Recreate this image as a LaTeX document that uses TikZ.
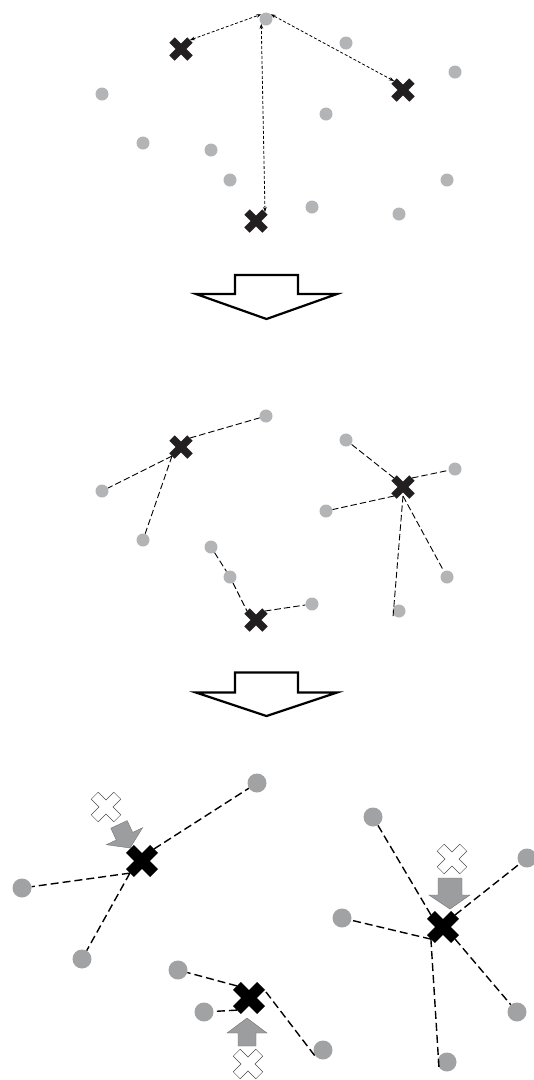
\documentclass[tikz,border=0pt]{standalone}
\usetikzlibrary{arrows.meta}
\definecolor{ptgray}{HTML}{B3B4B6}
\definecolor{bptgray}{HTML}{A1A2A4}
\definecolor{xdark}{HTML}{231F20}
\definecolor{arrgray}{HTML}{9C9D9F}
\tikzset{
  spt/.style={circle, fill=ptgray, inner sep=0pt, minimum size=13pt},
  bpt/.style={circle, fill=bptgray, inner sep=0pt, minimum size=19pt},
  sx/.style={inner sep=0pt, minimum size=17.6pt},
  bx/.style={inner sep=0pt, minimum size=23.8pt},
  sxline/.style={line width=7.5pt, xdark},
  bxline/.style={line width=11pt, black},
  topdash/.style={line width=0.8pt, dash pattern=on 3pt off 2pt,
     {Stealth[length=5pt,width=3.6pt]}-{Stealth[length=5pt,width=3.6pt]}},
  middash/.style={line width=0.9pt, dash pattern=on 6.5pt off 3pt},
  botdash/.style={line width=1.4pt, dash pattern=on 8pt off 4pt},
  bigarrow/.style={draw=black, line width=2.2pt, fill=white, line join=miter},
  grayarrow/.style={fill=arrgray, draw=black!55, line width=0.4pt, line join=miter},
  wcross/.pic={\draw[fill=white, draw=black!70, line width=0.5pt, rotate=45]
     (5,5) -- (16,5) -- (16,-5) -- (5,-5) -- (5,-16) -- (-5,-16) -- (-5,-5)
     -- (-16,-5) -- (-16,5) -- (-5,5) -- (-5,16) -- (5,16) -- cycle;}
}
\newcommand\drawX[2]{\draw[#2] (#1.north west) -- (#1.south east) (#1.south west) -- (#1.north east);}
\begin{document}
\begin{tikzpicture}[x=1pt,y=-1pt]
\useasboundingbox[fill=white] (0,0) rectangle (534,1080);

% ---------------- top panel ----------------
\node[spt] (t1) at (266,19) {};
\node[spt] (t2) at (346,43) {};
\node[spt] (t3) at (455,72) {};
\node[spt] (t4) at (102,94) {};
\node[spt] (t5) at (326,114) {};
\node[spt] (t6) at (143,143) {};
\node[spt] (t7) at (211,150) {};
\node[spt] (t8) at (230,180) {};
\node[spt] (t9) at (447,180) {};
\node[spt] (t10) at (312,207) {};
\node[spt] (t11) at (399,214) {};
\node[sx] (tA) at (181,49) {};
\node[sx] (tB) at (403,90) {};
\node[sx] (tC) at (256,221) {};
\draw[topdash] (tA.north east) -- (t1.north west);
\draw[topdash] (tB.north west) -- (t1.north east);
\draw[topdash] (tC.north east) -- (t1.south west);
\drawX{tA}{sxline}
\drawX{tB}{sxline}
\drawX{tC}{sxline}

% ---------------- arrow 1 ----------------
\draw[bigarrow] (235,275) -- (298,275) -- (298,294) -- (337,294) -- (266.5,319)
   -- (196,294) -- (235,294) -- cycle;

% ---------------- middle panel ----------------
\node[spt] (m1) at (266,416) {};
\node[spt] (m2) at (346,440) {};
\node[spt] (m3) at (455,469) {};
\node[spt] (m4) at (102,491) {};
\node[spt] (m5) at (326,511) {};
\node[spt] (m6) at (143,540) {};
\node[spt] (m7) at (211,547) {};
\node[spt] (m8) at (230,577) {};
\node[spt] (m9) at (447,577) {};
\node[spt] (m10) at (312,604) {};
\node[spt] (m11) at (399,611) {};
\node[sx] (mA) at (181,447) {};
\node[sx] (mB) at (403,487) {};
\node[sx] (mC) at (256,620) {};
\coordinate (m11end) at (393,617);
\draw[middash] (mA.north east) -- (m1);
\draw[middash] (mA.south west) -- (m4);
\draw[middash] (mA.south west) -- (m6);
\draw[middash] (mB.north west) -- (m2);
\draw[middash] (mB.north east) -- (m3);
\draw[middash] (mB.south west) -- (m5);
\draw[middash] (mB.south) -- (m9);
\draw[middash] (mB.south) -- (m11end);
\draw[middash] (m7) -- (m8);
\draw[middash] (m8) -- (mC.north west);
\draw[middash] (mC.north east) -- (m10);
\drawX{mA}{sxline}
\drawX{mB}{sxline}
\drawX{mC}{sxline}

% ---------------- arrow 2 ----------------
\draw[bigarrow] (235,672.5) -- (298,672.5) -- (298,692.5) -- (337,692.5) -- (266.5,716)
   -- (196,692.5) -- (235,692.5) -- cycle;

% ---------------- bottom panel ----------------
\node[bpt] (q1) at (257,783) {};
\node[bpt] (q2) at (22,888) {};
\node[bpt] (q3) at (82,959) {};
\node[bpt] (q4) at (178,970) {};
\node[bpt] (q5) at (204,1012) {};
\node[bpt] (q6) at (323,1050) {};
\node[bpt] (q7) at (373,817) {};
\node[bpt] (q8) at (527,858) {};
\node[bpt] (q9) at (342,918) {};
\node[bpt] (q10) at (517,1012) {};
\node[bpt] (q11) at (447,1062) {};
\node[bx] (bA) at (142,861) {};
\node[bx] (bB) at (443,927) {};
\node[bx] (bC) at (249,998) {};
\coordinate (bCe) at (266,992);
\coordinate (q6end) at (315,1056);
\coordinate (q11end) at (439,1068);
\draw[botdash] (bA.north east) -- (q1);
\draw[botdash] (bA.south west) -- (q2);
\draw[botdash] (bA.south west) -- (q3);
\draw[botdash] (bC.north west) -- (q4);
\draw[botdash] (bC.south west) -- (q5);
\draw[botdash] (bCe) -- (q6end);
\draw[botdash] (bB.north west) -- (q7);
\draw[botdash] (bB.north east) -- (q8);
\draw[botdash] (bB.south west) -- (q9);
\draw[botdash] (bB.south east) -- (q10);
\draw[botdash] (bB.south west) -- (q11end);
\drawX{bA}{bxline}
\drawX{bB}{bxline}
\drawX{bC}{bxline}

% old positions and moves
\pic at (106,807) {wcross};
\pic at (452,859) {wcross};
\pic at (248,1064) {wcross};
\draw[grayarrow] (130,848) -- (142.6,827.7) -- (132.7,832.4) -- (127.2,820.6)
   -- (110.8,828.2) -- (116.3,840.0) -- (106.4,844.7) -- cycle;
\draw[grayarrow] (450,909) -- (470,895) -- (462,895) -- (462,878) -- (438,878)
   -- (438,895) -- (429,895) -- cycle;
\draw[grayarrow] (247,1018) -- (267,1033) -- (256,1033) -- (256,1046) -- (238,1046)
   -- (238,1033) -- (227,1033) -- cycle;
\end{tikzpicture}
\end{document}
